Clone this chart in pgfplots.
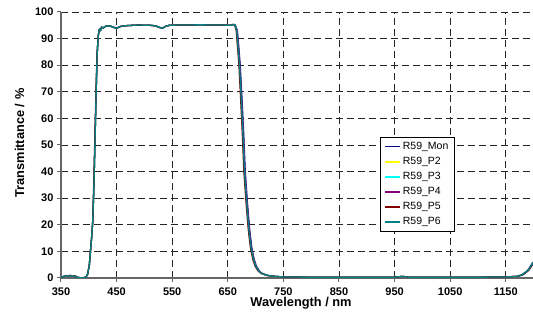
\documentclass[border=0pt]{standalone}
\usepackage{pgfplots}
\pgfplotsset{compat=1.18}
\usepackage{pgfplotstable}
\usepackage{fontspec}
\setmainfont{Liberation Sans}
\usetikzlibrary{calc}
\definecolor{cMon}{RGB}{0,0,128}
\definecolor{cP2}{RGB}{255,255,0}
\definecolor{cP3}{RGB}{0,255,255}
\definecolor{cP4}{RGB}{128,0,128}
\definecolor{cP5}{RGB}{128,0,0}
\definecolor{cP6}{RGB}{0,128,128}
% x: base wavelength; xm: R59_Mon; xr: R59_P5; xq: R59_P4
\pgfplotstableread{
x xm xr xq T
350 350 350 350 0.2
355 355 355 355 0.6
360 360 360 360 0.9
363 363 363 363 0.5
366 366 366 366 1.0
370 370 370 370 0.6
375 375 375 375 0.8
380 380 380 380 0.2
385 385 385 385 0.1
390 390 390 390 0.1
395 395 395 395 0.3
398 398 398 398 1.5
401 401 401 401 5
403 403 403 403 10
405 405 405 405 15
407 407 407 407 21
409 409 408.6 409 33
411 411 410.6 411 50
413 413 412.7 413 68
415 415 414.8 415 84
417 417 417 417 91
419 419 419 419 93.5
421 421 421 421 93.0
423 423 423 423 94.3
426 426 426 426 94.0
430 430 430 430 94.6
435 435 435 435 94.8
440 440 440 440 94.6
445 445 445 445 94.2
450 450 450 450 93.9
455 455 455 455 94.4
460 460 460 460 94.7
470 470 470 470 94.9
480 480 480 480 95.0
490 490 490 490 95.1
500 500 500 500 95.0
510 510 510 510 95.0
520 520 520 520 94.8
527 527 527 527 94.2
533 533 533 533 93.9
538 538 538 538 94.6
545 545 545 545 95.0
560 560 560 560 95.1
580 580 580 580 95.1
600 600 600 600 95.2
620 620 620 620 95.1
640 640 640 640 95.1
655 655 655 655 95.0
660 660 660 660 95.3
663 663.5 662.5 663 95.1
666 667.2 665.2 666.4 93
668 669.3 667.1 668.5 88
671 672.3 670.1 671.5 80
674 675.4 673.0 674.5 68
677 678.4 676.0 677.5 55
680 681.4 679.0 680.5 40
684 685.4 683.0 684.5 28
688 689.4 687.0 688.5 18
692 693.4 691.0 692.5 11
696 697.4 695.0 696.5 7
700 701.3 699.0 700.5 4.5
705 706.2 704.0 705.5 2.8
710 711.0 709.2 710.4 1.8
720 720.8 719.4 720.3 1.0
735 735.5 734.6 735 0.6
750 750 750 750 0.4
800 800 800 800 0.3
850 850 850 850 0.3
900 900 900 900 0.3
950 950 950 950 0.3
965 965 965 965 0.6
975 975 975 975 0.3
1000 1000 1000 1000 0.3
1050 1050 1050 1050 0.3
1100 1100 1100 1100 0.3
1150 1150 1150 1150 0.4
1170 1169 1171 1170 0.6
1180 1179 1181 1180 1.2
1190 1189 1191 1190 2.8
1195 1194 1196 1195 4.3
1200 1199 1201 1200 6
}\data
\begin{document}
\begin{tikzpicture}
\begin{axis}[
  name=ax,
  at={(0,0)}, anchor=south west,
  scale only axis,
  width=472pt, height=266pt,
  xmin=350, xmax=1199,
  ymin=0, ymax=100,
  axis x line=bottom, axis y line=left,
  axis line style={draw=black!60, line width=1.4pt, -},
  xtick={350,450,...,1150},
  ytick={0,10,...,100},
  tick align=outside,
  major tick length=4pt,
  tick style={draw=black!60, line width=1pt},
  grid=major,
  major grid style={draw=black!85, dash pattern=on 7pt off 4pt, line width=0.6pt},
  /pgf/number format/assume math mode=true,
  /pgf/number format/set thousands separator={},
  ticklabel style={font=\fontsize{11}{13}\selectfont\bfseries},
  xticklabel style={yshift=-2pt},
  xlabel={Wavelength / nm},
  ylabel={Transmittance / \%},
  label style={font=\fontsize{12.8}{14}\selectfont\bfseries},
  xlabel style={at={(0.5,0)}, anchor=north, yshift=-16pt, xshift=4pt},
  ylabel style={at={(0,0.5)}, anchor=south, yshift=33pt, xshift=2pt},
  legend style={at={(0.676,0.530)}, anchor=north west, draw=black, line width=0.6pt,
    font=\fontsize{10.5}{12}\selectfont, row sep=2.2pt, inner xsep=4pt, inner ysep=3pt,
    cells={anchor=west}},
  legend image code/.code={\draw[#1, line width=1.5pt] (0pt,0pt) -- (15pt,0pt);},
  every axis plot/.append style={line width=1.3pt, line join=round},
]
\addplot[cMon] table[x=xm, y=T] {\data};
\addplot[cP2] table[x=x, y=T] {\data};
\addplot[cP3] table[x=x, y=T] {\data};
\addplot[cP4] table[x=xq, y=T] {\data};
\addplot[cP5] table[x=xr, y=T] {\data};
\addplot[cP6] table[x=x, y=T] {\data};
\legend{R59\_Mon, R59\_P2, R59\_P3, R59\_P4, R59\_P5, R59\_P6}
\end{axis}
\pgfresetboundingbox
\path ($(ax.south west)+(-61pt,-47pt)$) rectangle ($(ax.north east)+(0pt,12pt)$);
\end{tikzpicture}
\end{document}
